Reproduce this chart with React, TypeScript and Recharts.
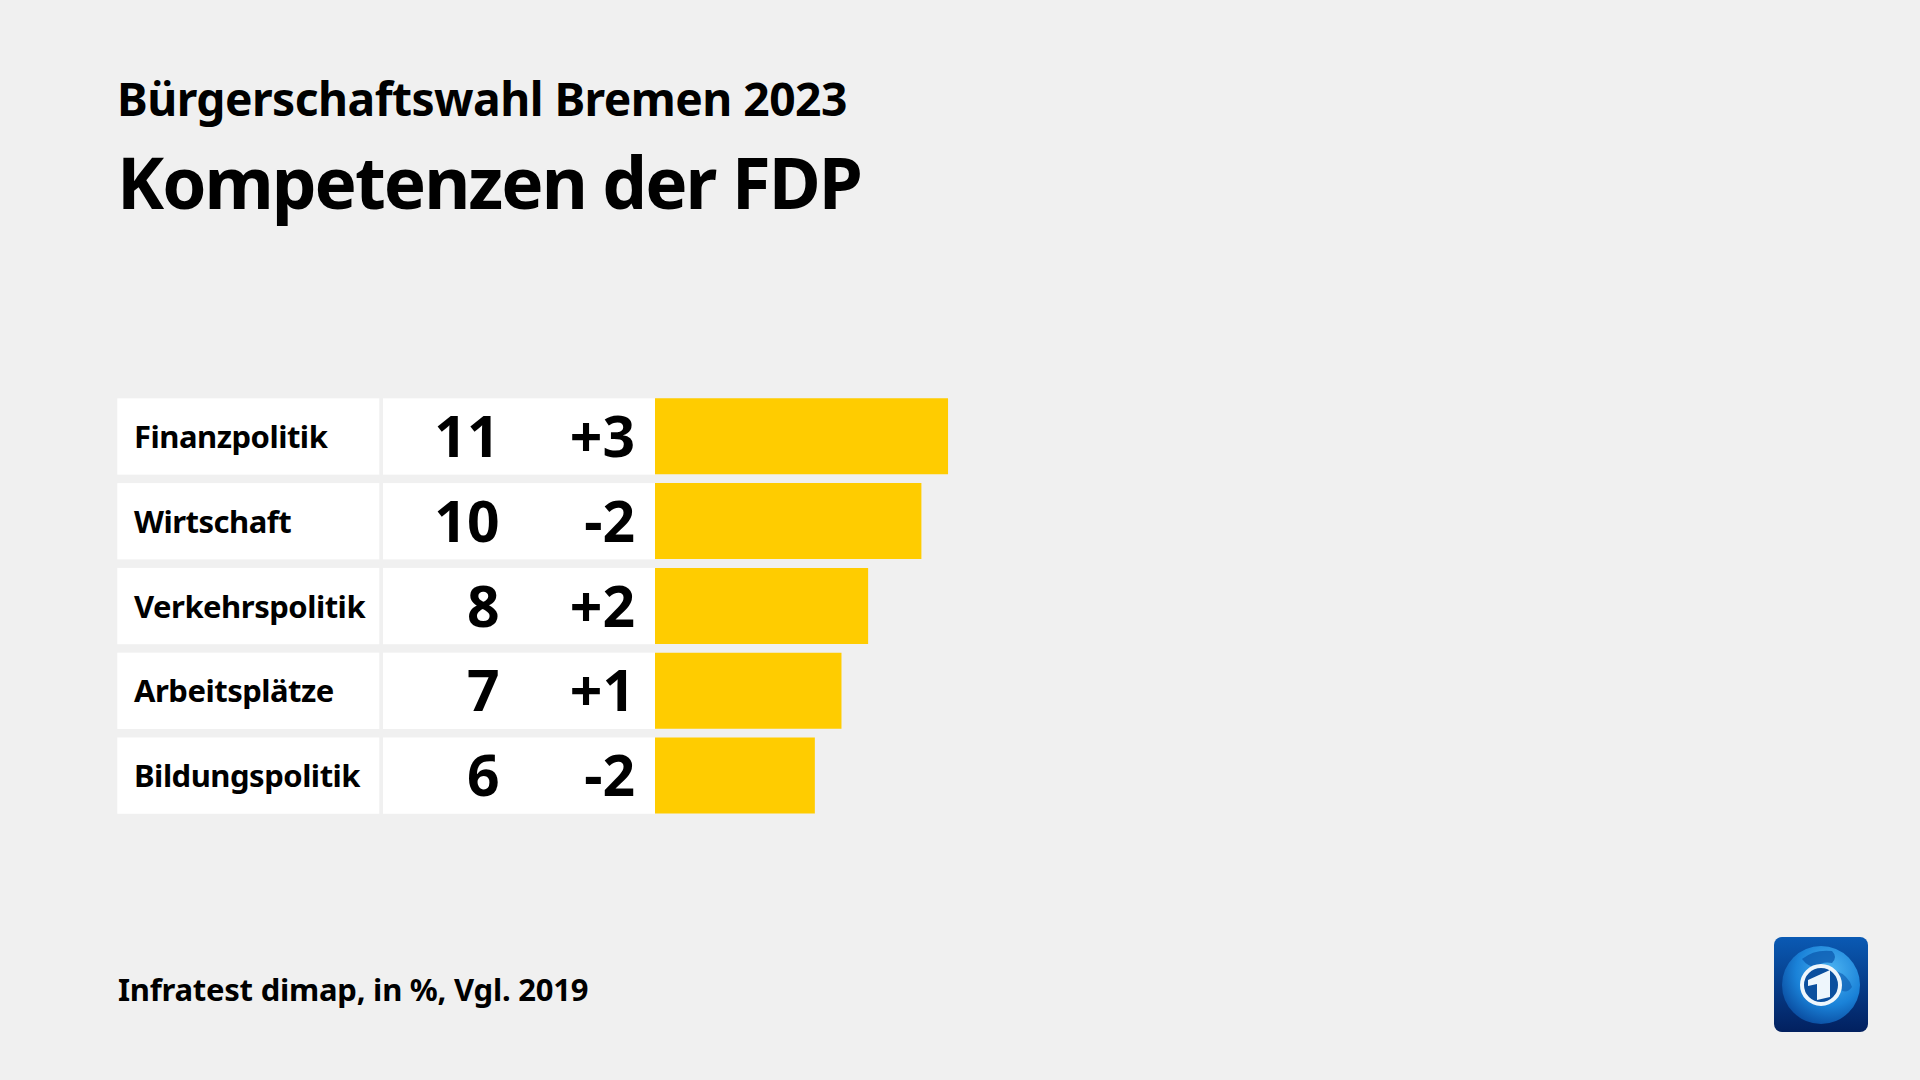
import React from 'react';
import { BarChart, Bar, XAxis, YAxis, Customized } from 'recharts';

const subtitle = 'Bürgerschaftswahl Bremen 2023';
const title = 'Kompetenzen der FDP';
const source = 'Infratest dimap, in %, Vgl. 2019';
const categories = ['Finanzpolitik', 'Wirtschaft', 'Verkehrspolitik', 'Arbeitsplätze', 'Bildungspolitik'];
const shares = [11, 10, 8, 7, 6];
const changes = ['+3', '-2', '+2', '+1', '-2'];

const rows = categories.map((name, i) => ({ name, share: shares[i], change: changes[i] }));

const FONT = '"Noto Sans", sans-serif';
const PLOT_LEFT = 655;
const ROW_H = 76.3;
const UNIT = 26.64;
const PLOT_W = 1920 - PLOT_LEFT;

function RowTick(props: any) {
  const { y, index } = props;
  const row = rows[index];
  const top = y - ROW_H / 2;
  return (
    <g>
      <rect x={117.3} y={top} width={262} height={ROW_H} fill="#fff" />
      <rect x={383} y={top} width={PLOT_LEFT - 383} height={ROW_H} fill="#fff" />
      <text x={134} y={y + 11.5} fontFamily={FONT} fontSize={31} fontWeight={700} letterSpacing={-0.5} fill="#000">{row.name}</text>
      <text x={499.5} y={y + 20.5} fontFamily={FONT} fontSize={57} fontWeight={700} fill="#000" textAnchor="end">{row.share}</text>
      <text x={635} y={y + 20.5} fontFamily={FONT} fontSize={57} fontWeight={700} fill="#000" textAnchor="end">{row.change}</text>
    </g>
  );
}

function Logo() {
  return (
    <svg x={1774} y={937} width={94} height={95} viewBox="0 0 94 95">
      <defs>
        <linearGradient id="tile" x1="0" y1="0" x2="0" y2="1">
          <stop offset="0" stopColor="#0a5ab4" />
          <stop offset="1" stopColor="#02205f" />
        </linearGradient>
        <radialGradient id="globe" cx="0.62" cy="0.32" r="0.8">
          <stop offset="0" stopColor="#4db4f2" />
          <stop offset="0.55" stopColor="#1a82d8" />
          <stop offset="1" stopColor="#063f92" />
        </radialGradient>
      </defs>
      <rect width={94} height={95} rx={8} fill="url(#tile)" />
      <circle cx={47} cy={48} r={39} fill="url(#globe)" />
      <path d="M28 22 Q40 12 58 14 Q64 20 58 26 Q48 24 42 30 Q34 30 28 22 Z" fill="#0b58ad" opacity={0.75} />
      <path d="M62 34 Q74 38 78 50 Q72 58 66 52 Q62 44 62 34 Z" fill="#0b58ad" opacity={0.6} />
      <circle cx={47} cy={48} r={19} fill="#0b4f9e" stroke="#eef6fc" strokeWidth={4} />
      <path d="M34 43 L56 33 L56 60 L43 63 L43 47 L34 49 Z" fill="#eef6fc" />
    </svg>
  );
}

export default function App() {
  return (
    <div style={{ position: 'fixed', left: 0, top: 0, width: 1920, height: 1080, background: '#f0f0f0' }}>
      <BarChart
        width={1920}
        height={1080}
        data={rows}
        layout="vertical"
        margin={{ top: 394.1, right: 0, bottom: 262, left: 0 }}
        barCategoryGap="5%"
      >
        <XAxis type="number" hide domain={[0, PLOT_W / UNIT]} />
        <YAxis type="category" dataKey="name" width={PLOT_LEFT} axisLine={false} tickLine={false} tick={<RowTick />} interval={0} />
        <Bar dataKey="share" fill="#ffcc00" isAnimationActive={false} />
        <Customized component={() => (
          <g>
            <text x={117} y={116} fontFamily={FONT} fontSize={46.2} fontWeight={700} letterSpacing={-0.54} fill="#000">{subtitle}</text>
            <text x={117} y={209} fontFamily={FONT} fontSize={71} fontWeight={700} letterSpacing={-2} fill="#000">{title}</text>
            <text x={118} y={1001} fontFamily={FONT} fontSize={31} fontWeight={700} letterSpacing={-0.24} fill="#000">{source}</text>
            <Logo />
          </g>
        )} />
      </BarChart>
    </div>
  );
}
